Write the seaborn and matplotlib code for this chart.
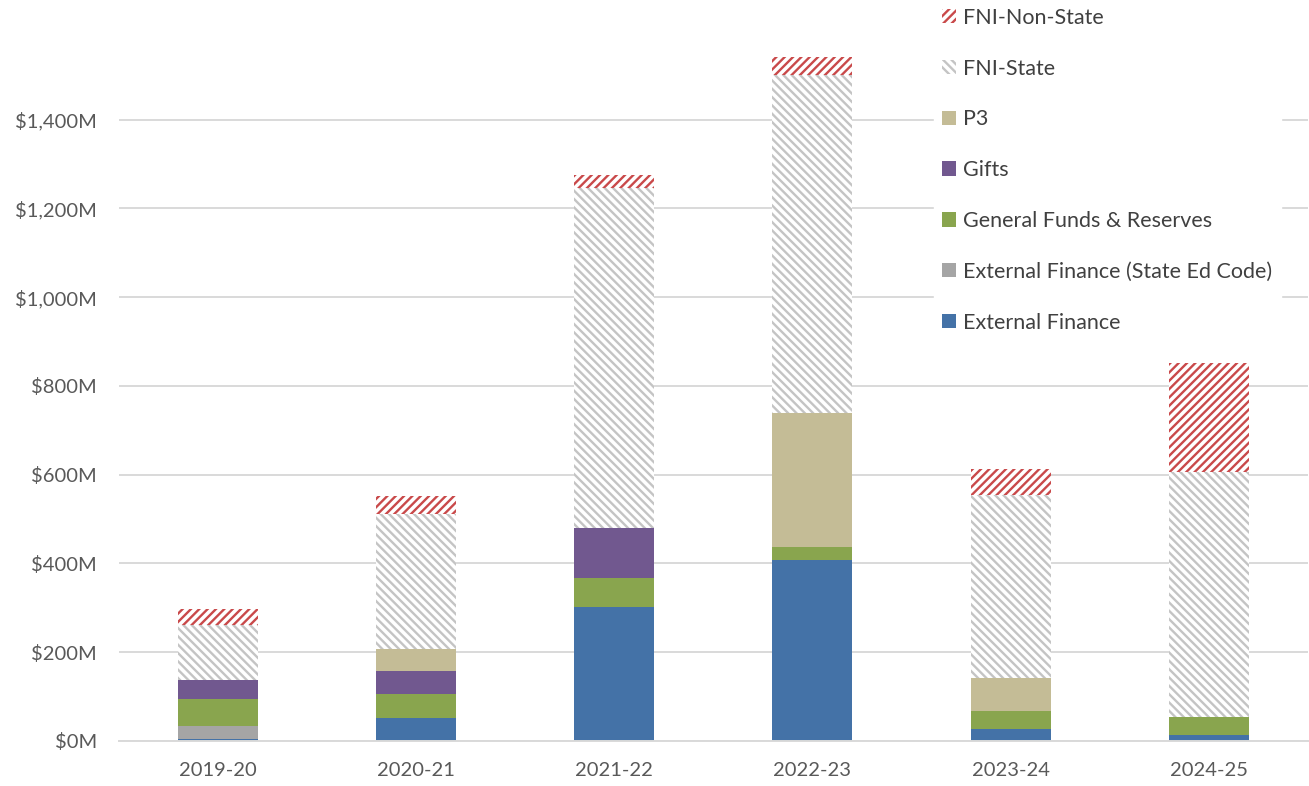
import numpy as np
import pandas as pd
import matplotlib
matplotlib.use("Agg")
import matplotlib.pyplot as plt
from matplotlib.ticker import FuncFormatter
import seaborn as sns

# ── data (in $M) ──
years = ["2019-20", "2020-21", "2021-22", "2022-23", "2023-24", "2024-25"]
external_finance = [5, 52, 302, 408, 27, 14]
external_state_ed = [29, 0, 0, 0, 0, 0]
general_funds = [61, 54, 65, 29, 41, 40]
gifts = [42, 52, 113, 0, 0, 0]
p3 = [0, 49, 0, 302, 74, 0]
fni_state = [124, 305, 767, 762, 413, 552]
fni_non_state = [37, 40, 29, 41, 58, 246]

series_names = ["External Finance", "External Finance (State Ed Code)",
                "General Funds & Reserves", "Gifts", "P3",
                "FNI-State", "FNI-Non-State"]
series_values = [external_finance, external_state_ed, general_funds,
                 gifts, p3, fni_state, fni_non_state]

# ── styles ──
styles = {
    "External Finance": dict(color="#4472A7"),
    "External Finance (State Ed Code)": dict(color="#A5A5A5"),
    "General Funds & Reserves": dict(color="#89A54E"),
    "Gifts": dict(color="#71588F"),
    "P3": dict(color="#C4BC96"),
    "FNI-State": dict(color="white", edgecolor="#C4C4C4", hatch="\\\\\\\\"),
    "FNI-Non-State": dict(color="white", edgecolor="#C9494A", hatch="////"),
}

sns.set_theme(style="white")
plt.rcParams["font.family"] = ["Lato", "DejaVu Sans"]
plt.rcParams["hatch.linewidth"] = 1.7

fig = plt.figure(figsize=(13.09, 7.86), dpi=100)
ax = fig.add_axes([0.091, 0.0573, 0.908, 0.892])

bottom = np.zeros(len(years))
handles = []
for name, vals in zip(series_names, series_values):
    df = pd.DataFrame({"year": years, "value": vals})
    st = styles[name]
    sns.barplot(data=df, x="year", y="value", order=years, ax=ax,
                bottom=bottom, width=0.404, errorbar=None, saturation=1,
                linewidth=0, **st)
    handles.append(ax.containers[-1])
    bottom = bottom + np.array(vals)

ax.set_xlim(-0.5, 5.5)
ax.set_ylim(0, 1580)
ax.set_yticks(np.arange(0, 1401, 200))
ax.yaxis.set_major_formatter(FuncFormatter(lambda v, _: f"${v:,.0f}M"))
ax.set_xlabel("")
ax.set_ylabel("")
ax.grid(axis="y", color="#D9D9D9", linewidth=1.4)
ax.set_axisbelow(True)
for s in ["top", "right", "left"]:
    ax.spines[s].set_visible(False)
ax.spines["bottom"].set_color("#D9D9D9")
ax.spines["bottom"].set_linewidth(1.4)
ax.tick_params(axis="both", length=0, labelsize=14.5, labelcolor="#595959")
ax.tick_params(axis="y", pad=16)
ax.tick_params(axis="x", pad=15)

leg = ax.legend(handles[::-1], series_names[::-1], loc="upper left",
                bbox_to_anchor=(0.6855, 1.058), frameon=True, framealpha=1,
                edgecolor="white", fontsize=15.5, labelspacing=1.43,
                handlelength=0.65, handleheight=0.65, handletextpad=0.3,
                borderaxespad=0, borderpad=0.4)
for t in leg.get_texts():
    t.set_color("#404040")

fig.savefig("out.png", dpi=100)
